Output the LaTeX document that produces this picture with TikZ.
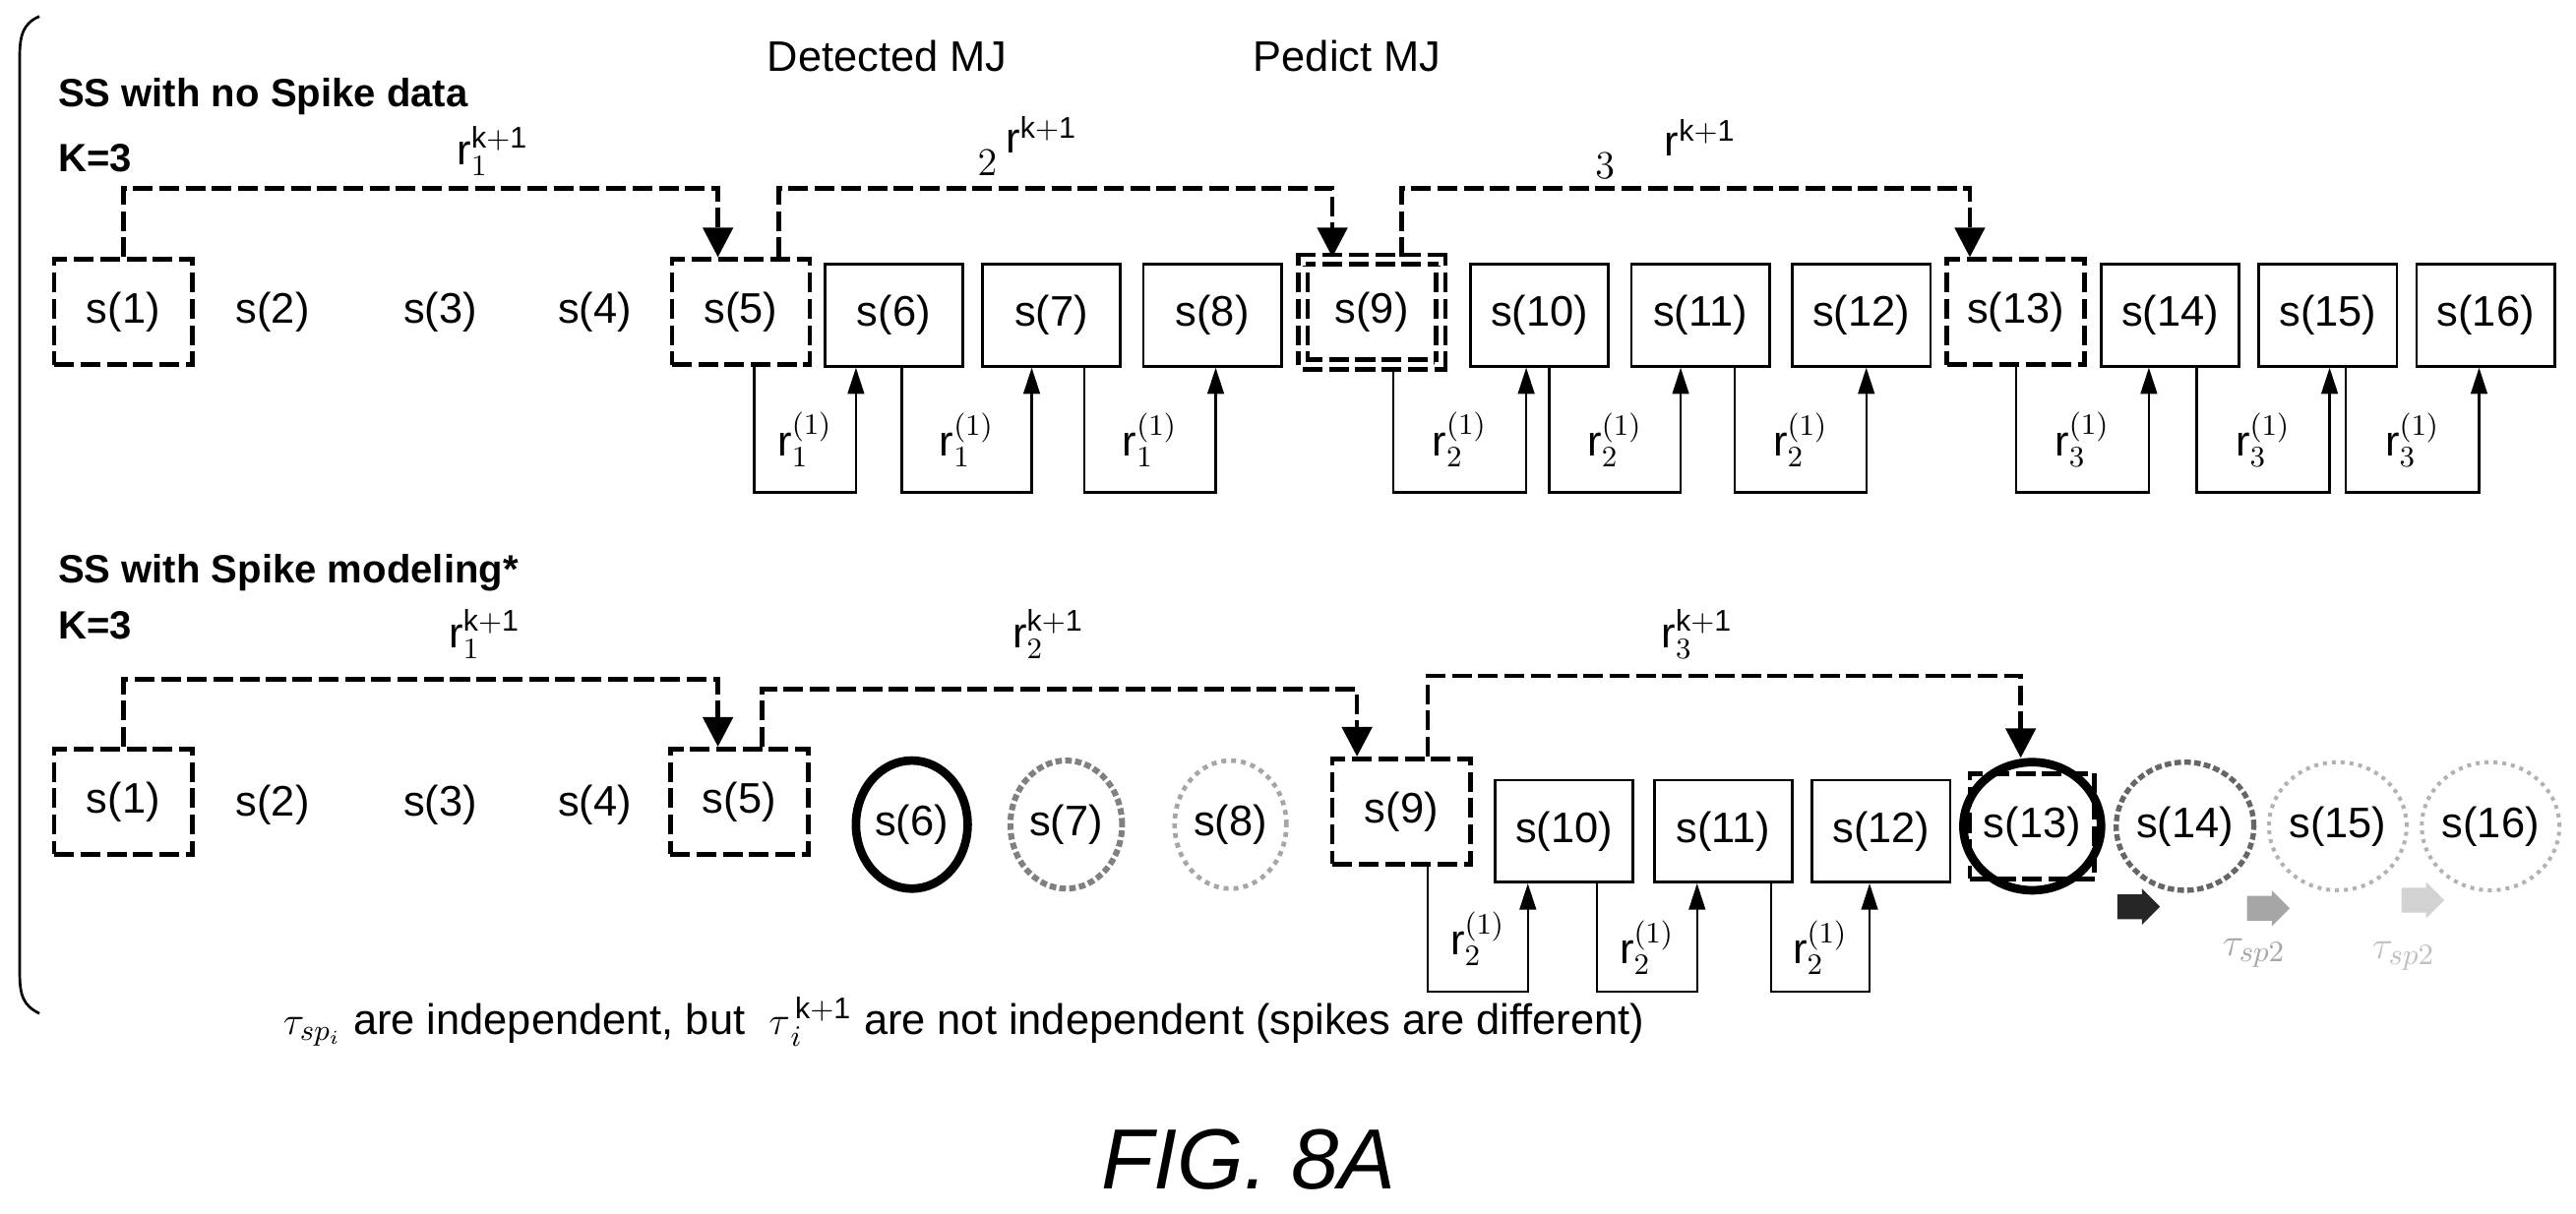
\documentclass[tikz,border=0pt]{standalone}
\usepackage{fontspec}
\setmainfont{Liberation Sans}
\usetikzlibrary{calc,arrows.meta,shapes.arrows,shapes.geometric}
\begin{document}
\begin{tikzpicture}[x=0.5pt,y=-0.5pt,
  lbl/.style={font=\fontsize{13}{15}\selectfont,inner sep=0pt},
  ttl/.style={font=\bfseries\fontsize{12}{14}\selectfont,anchor=west,inner sep=0pt},
  box/.style={draw,line width=0.8pt,minimum width=42pt,minimum height=31pt,inner sep=0pt,font=\fontsize{13}{15}\selectfont},
  dbox/.style={box,dashed,line width=1.4pt,minimum height=32pt,dash pattern=on 6pt off 2pt},
  plain/.style={inner sep=0pt,font=\fontsize{13}{15}\selectfont},
  circ/.style={ellipse,draw,minimum width=34pt,minimum height=39pt,inner sep=0pt,font=\fontsize{13}{15}\selectfont},
  arr/.style={line width=1.4pt,dash pattern=on 6pt off 2pt,-{Triangle[width=9pt,length=9pt]}},
  fb/.style={line width=0.7pt,-{Triangle[width=5pt,length=8pt]}},
  ml/.style={inner sep=0pt,font=\fontsize{13}{15}\selectfont},
  spk/.style={single arrow,minimum width=11pt,single arrow head extend=1pt,minimum height=13pt,inner sep=2pt}]
\useasboundingbox (0,0) rectangle (1568,738.5);
% brace
\draw[line width=0.8pt] (24,10) .. controls (14,14) and (12,22) .. (12,34) -- (12,592) .. controls (12,606) and (14,612) .. (24,617);
% headers
\node[lbl] (det) at (540,34) {Detected MJ};
\node[lbl] (ped) at (820,34) {Pedict MJ};
\node[ttl] (t1) at (35,59) {SS with no Spike data};
\node[ttl] (k1) at (35,96) {K=3};
\node[ttl] (t2) at (35,349) {SS with Spike modeling*};
\node[ttl] (k2) at (35,381) {K=3};
% top row
\node[dbox] (a1) at (75,190) {s(1)};
\node[plain] (a2) at (166,190) {s(2)};
\node[plain] (a3) at (268,190) {s(3)};
\node[plain] (a4) at (362,190) {s(4)};
\node[dbox] (a5) at (451,190) {s(5)};
\node[box] (a6) at (544,192) {s(6)};
\node[box] (a7) at (640,192) {s(7)};
\node[box] (a8) at (738,192) {s(8)};
\node[dbox,double,double distance=1.5pt] (a9) at (835,190) {s(9)};
\node[box] (a10) at (937,192) {s(10)};
\node[box] (a11) at (1035,192) {s(11)};
\node[box] (a12) at (1133,192) {s(12)};
\node[dbox] (a13) at (1227,190) {s(13)};
\node[box] (a14) at (1321,192) {s(14)};
\node[box] (a15) at (1417,192) {s(15)};
\node[box] (a16) at (1513,192) {s(16)};
% top arrows
\draw[arr] (a1.north) |- ($(a5.north)+(-14,-42)$) -- ($(a5.north)+(-14,0)$);
\draw[arr] ($(a5.north)+(23,0)$) |- ($(a9.north)+(-24,-42)$) -- ($(a9.north)+(-24,0)$);
\draw[arr] ($(a9.north)+(18,0)$) |- ($(a13.north)+(-28,-42)$) -- ($(a13.north)+(-28,0)$);
\node[ml] (la1) at (300,92) {$\mathrm{r}^{\mathrm{k+1}}_{1}$};
\node[ml] (la2a) at (601,99) {$2$};
\node[ml] (la2b) at (634,82) {$\mathrm{r}^{\mathrm{k+1}}$};
\node[ml] (la3a) at (977,101) {$3$};
\node[ml] (la3b) at (1035,84) {$\mathrm{r}^{\mathrm{k+1}}$};
% loops
\newcommand\fbl[6]{%
  \draw[fb] ($(#1.south)+(#2,0)$) |- ($(#3.south)+(#4,#5)$) -- ($(#3.south)+(#4,0)$);
  \node[ml] at ($(#1.south)!0.5!(#3.south)+(#2/2+#4/2,#5/2+6)$) {$\mathrm{r}^{(1)}_{#6}$};}
\fbl{a5}{8}{a6}{-23}{76}{1}
\fbl{a6}{5}{a7}{-12}{76}{1}
\fbl{a7}{20}{a8}{2}{76}{1}
\fbl{a9}{13}{a10}{-8}{76}{2}
\fbl{a10}{6}{a11}{-12}{76}{2}
\fbl{a11}{21}{a12}{3}{76}{2}
\fbl{a13}{0}{a14}{-13}{76}{3}
\fbl{a14}{16}{a15}{1}{76}{3}
\fbl{a15}{11}{a16}{-4}{76}{3}
% bottom row
\node[dbox] (b1) at (75,488) {s(1)};
\node[plain] (b2) at (166,490) {s(2)};
\node[plain] (b3) at (268,490) {s(3)};
\node[plain] (b4) at (362,490) {s(4)};
\node[dbox] (b5) at (450,488) {s(5)};
\node[circ,line width=2.6pt] (b6) at (555,502) {s(6)};
\node[circ,draw=gray,line width=1.8pt,dash pattern=on 2pt off 1pt] (b7) at (649,502) {s(7)};
\node[circ,draw=gray!70,line width=1.4pt,dash pattern=on 1.5pt off 1.5pt] (b8) at (749,502) {s(8)};
\node[dbox] (b9) at (853,494) {s(9)};
\node[box] (b10) at (952,506) {s(10)};
\node[box] (b11) at (1049,506) {s(11)};
\node[box] (b12) at (1145,506) {s(12)};
\node[dbox,minimum width=38pt] (b13) at (1237,503) {};
\node[circ,line width=2.6pt] (b13c) at (1237,503) {s(13)};
\node[circ,draw=gray!80!black,line width=1.6pt,dash pattern=on 2pt off 1pt] (b14) at (1330,503) {s(14)};
\node[circ,draw=gray!60,line width=1.2pt,dash pattern=on 1.2pt off 1.5pt] (b15) at (1423,503) {s(15)};
\node[circ,draw=gray!60,line width=1.2pt,dash pattern=on 1.2pt off 1.5pt] (b16) at (1516,503) {s(16)};
% bottom arrows
\draw[arr] (b1.north) |- ($(b5.north)+(-13,-41)$) -- ($(b5.north)+(-13,0)$);
\draw[arr] ($(b5.north)+(14,0)$) |- ($(b9.north)+(-27,-41)$) -- ($(b9.north)+(-27,0)$);
\draw[arr] ($(b9.north)+(16,0)$) |- ($(b13c.north)+(-7,-50)$) -- ($(b13c.north)+(-7,0)$);
\node[ml] (lb1) at (295,386) {$\mathrm{r}^{\mathrm{k+1}}_{1}$};
\node[ml] (lb2) at (638,386) {$\mathrm{r}^{\mathrm{k+1}}_{2}$};
\node[ml] (lb3) at (1033,386) {$\mathrm{r}^{\mathrm{k+1}}_{3}$};
\fbl{b9}{16}{b10}{-22}{66}{2}
\fbl{b10}{20}{b11}{-16}{66}{2}
\fbl{b11}{29}{b12}{-7}{66}{2}
% spike arrows
\node[spk,fill=black!85] (sp1) at (1298,552) {};
\node[spk,fill=gray!70] (sp2) at (1377,553) {};
\node[spk,fill=gray!35] (sp3) at (1471,548) {};
\node[ml,text=gray!70] (ts1) at (1372,580) {$\tau_{sp2}$};
\node[ml,text=gray!50] (ts2) at (1463,582) {$\tau_{sp2}$};
% caption text
\node[lbl,anchor=west] (note) at (172,622) {$\tau_{sp_i}$ are independent, but \ $\tau^{\,\mathrm{k+1}}_{\,i}$ are not independent (spikes are different)};
\node[font=\itshape\fontsize{26}{30}\selectfont,inner sep=0pt] (fig) at (760,706) {FIG. 8A};
\end{tikzpicture}
\end{document}
